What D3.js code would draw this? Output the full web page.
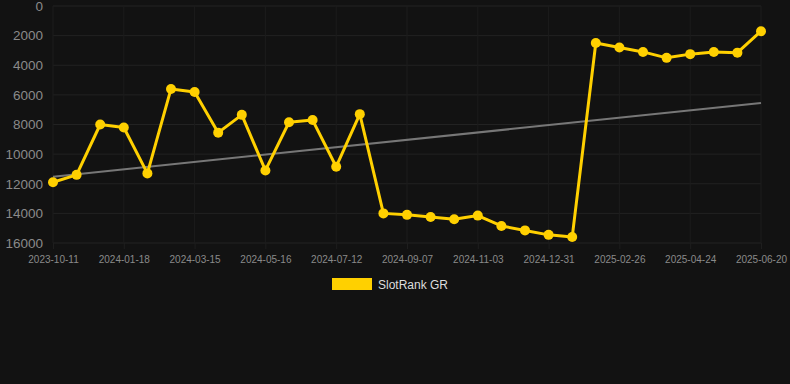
<!DOCTYPE html>
<html>
<head>
<meta charset="utf-8">
<script src="https://cdn.jsdelivr.net/npm/d3@7"></script>
<style>
  html, body { margin: 0; padding: 0; background: #121212; }
  svg { display: block; font-family: "Liberation Sans", Arial, sans-serif; }
</style>
</head>
<body>
<script>
// categories (tick labels are every third entry)
const dates = [
  "2023-10-11", "2023-11-13", "2023-12-16", "2024-01-18", "2024-02-06", "2024-02-25",
  "2024-03-15", "2024-04-04", "2024-04-25", "2024-05-16", "2024-06-04", "2024-06-23",
  "2024-07-12", "2024-07-31", "2024-08-19", "2024-09-07", "2024-09-26", "2024-10-15",
  "2024-11-03", "2024-11-22", "2024-12-12", "2024-12-31", "2025-01-19", "2025-02-07",
  "2025-02-26", "2025-03-17", "2025-04-05", "2025-04-24", "2025-05-13", "2025-06-01",
  "2025-06-20"
];
const ranks = [
  11900, 11400, 8000, 8200, 11300, 5600, 5800, 8550, 7350, 11100, 7850,
  7700, 10850, 7300, 14000, 14100, 14250, 14400, 14150, 14850, 15150, 15450,
  15600, 2500, 2800, 3100, 3500, 3250, 3100, 3150, 1700
];
const trendValues = [11520, 6550];
const yTicks = [0, 2000, 4000, 6000, 8000, 10000, 12000, 14000, 16000];
const seriesName = "SlotRank GR";

const width = 790, height = 384;
const plotLeft = 53, plotRight = 761, plotTop = 6, plotBottom = 243;
const gold = "#ffd000";

const svg = d3.select("body").append("svg")
  .attr("width", width)
  .attr("height", height);

svg.append("rect").attr("width", width).attr("height", height).attr("fill", "#121212");

const x = d3.scalePoint().domain(dates).range([plotLeft, plotRight]);
const y = d3.scaleLinear().domain([0, 16000]).range([plotTop, plotBottom]);
const xTickVals = dates.filter((d, i) => i % 3 === 0);

// grid
svg.append("g")
  .selectAll("line")
  .data(yTicks)
  .enter().append("line")
  .attr("x1", plotLeft).attr("x2", plotRight)
  .attr("y1", d => y(d)).attr("y2", d => y(d))
  .attr("stroke", "#222").attr("stroke-width", 1);

svg.append("g")
  .selectAll("line")
  .data(xTickVals)
  .enter().append("line")
  .attr("x1", d => x(d)).attr("x2", d => x(d))
  .attr("y1", plotTop).attr("y2", plotBottom)
  .attr("stroke", "#1c1c1c").attr("stroke-width", 1);

// axes
const yAxis = d3.axisLeft(y).tickValues(yTicks).tickFormat(d3.format("d")).tickSize(0).tickPadding(10);
const gy = svg.append("g").attr("transform", "translate(" + plotLeft + ",0)").call(yAxis);
gy.select(".domain").remove();
gy.selectAll("text").attr("fill", "#8a8a8a").style("font-size", "13.5px");

const xAxis = d3.axisBottom(x).tickValues(xTickVals).tickSize(6).tickPadding(7);
const gx = svg.append("g").attr("transform", "translate(0," + plotBottom + ")").call(xAxis);
gx.select(".domain").remove();
gx.selectAll("line").attr("stroke", "#1e1e1e");
gx.selectAll("text").attr("fill", "#8a8a8a").style("font-size", "10px");

// trend line
svg.append("line")
  .attr("x1", x(dates[0])).attr("y1", y(trendValues[0]))
  .attr("x2", x(dates[dates.length - 1])).attr("y2", y(trendValues[1]))
  .attr("stroke", "#777").attr("stroke-width", 2);

// series
const line = d3.line()
  .x((d, i) => x(dates[i]))
  .y(d => y(d));

svg.append("path")
  .datum(ranks)
  .attr("d", line)
  .attr("fill", "none")
  .attr("stroke", gold)
  .attr("stroke-width", 3)
  .attr("stroke-linejoin", "round");

svg.append("g")
  .selectAll("circle")
  .data(ranks)
  .enter().append("circle")
  .attr("cx", (d, i) => x(dates[i]))
  .attr("cy", d => y(d))
  .attr("r", 5)
  .attr("fill", gold);

// legend
const legend = svg.append("g").attr("transform", "translate(332,278)");
legend.append("rect").attr("width", 40).attr("height", 12).attr("fill", gold);
legend.append("text")
  .attr("x", 46).attr("y", 10.5)
  .attr("fill", "#dddddd")
  .style("font-size", "12px")
  .text(seriesName);
</script>
</body>
</html>
